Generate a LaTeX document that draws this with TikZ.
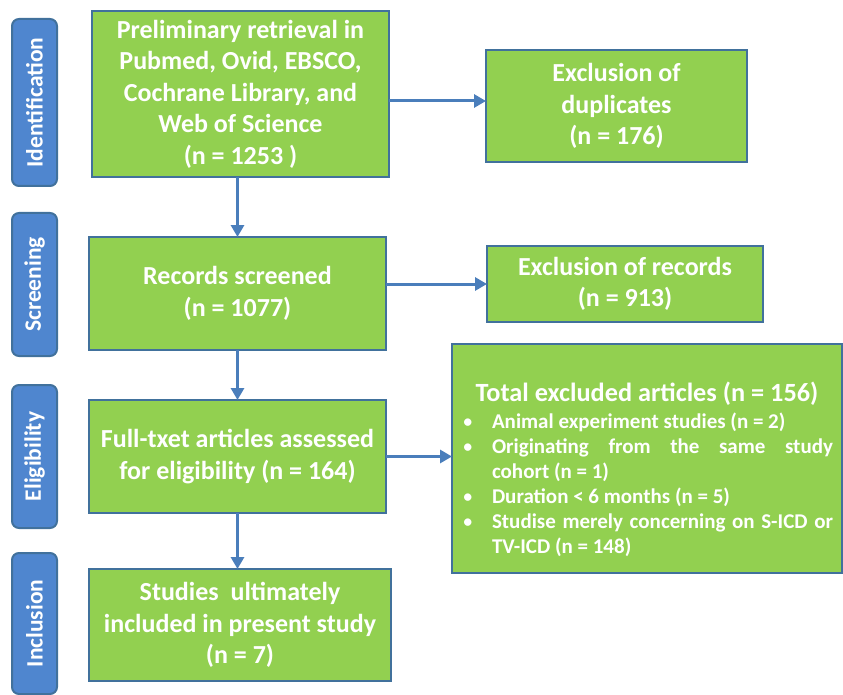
\documentclass[tikz,border=0pt]{standalone}
\usepackage{fontspec}
\setmainfont{Carlito}
\usepackage{enumitem}
\usetikzlibrary{arrows.meta}

\definecolor{boxgreen}{HTML}{92D050}
\definecolor{boxline}{HTML}{41719C}
\definecolor{tabblue}{HTML}{4F86CF}
\definecolor{arrowblue}{HTML}{4A7EBB}

\tikzset{
  stagebox/.style={draw=boxline, line width=1.8pt, fill=boxgreen, text=white,
    font=\bfseries\fontsize{26}{31.5}\selectfont, align=center,
    inner sep=0pt, outer sep=0pt},
  phasetab/.style={draw=boxline, line width=2pt, fill=tabblue, rounded corners=7pt,
    rotate=90, text=white, font=\bfseries\fontsize{23.5}{26}\selectfont,
    minimum height=45pt, inner sep=0pt},
  flow/.style={arrowblue, line width=3pt, -{Triangle[length=12pt,width=13pt]}},
}

\begin{document}
\begin{tikzpicture}[x=1pt, y=-1pt]
    % Page in pixel units, y down
    \useasboundingbox (0,0) rectangle (843,695);

    % Phase tabs on the left
    \node[phasetab, minimum width=167pt] (tabid) at (34.5,102.5) {Identification};
    \node[phasetab, minimum width=143pt] (tabscr) at (34.5,284.5) {Screening};
    \node[phasetab, minimum width=143pt] (tabelig) at (34.5,456.5) {Eligibility};
    \node[phasetab, minimum width=141pt] (tabinc) at (34.5,623.5) {Inclusion};

    % Main column
    \node[stagebox, minimum width=297pt, minimum height=166pt] (prelim) at (240.5,94)
        {Preliminary retrieval in\\ Pubmed, Ovid, EBSCO,\\ Cochrane Library, and\\ Web of Science\\ (n = 1253 )};
    \node[stagebox, minimum width=297pt, minimum height=113pt] (screen) at (237.5,293.5)
        {Records screened\\ (n = 1077)};
    \node[stagebox, minimum width=297pt, minimum height=113pt] (fulltext) at (237.5,456.5)
        {Full-txet articles assessed\\ for eligibility (n = 164)};
    \node[stagebox, minimum width=302pt, minimum height=112pt] (included) at (240,625)
        {Studies~ ultimately\\ included in present study\\ (n = 7)};

    % Exclusions on the right
    \node[stagebox, minimum width=261pt, minimum height=112pt] (dupl) at (616.5,106)
        {Exclusion of\\ duplicates\\ (n = 176)};
    \node[stagebox, minimum width=276pt, minimum height=76pt] (exrec) at (625,284)
        {Exclusion of records\\ (n = 913)};
    % strut in the title line pushes the block down a little
    \node[stagebox, minimum height=229pt, text width=372pt, inner xsep=9pt, align=justify] (exart) at (647,458.5)
        {\hyphenpenalty=10000
         {\centering\fontsize{26.3}{30}\selectfont\rule{0pt}{42pt}Total excluded articles (n = 156)\par}
         \vspace{2pt}
         \fontsize{21}{25}\selectfont
         \begin{itemize}[leftmargin=31pt, labelsep=19pt, itemsep=0pt, topsep=0pt, parsep=0pt, partopsep=0pt]
           \item Animal experiment studies (n = 2)
           \item Originating from the same study\linebreak cohort (n = 1)
           \item Duration < 6 months (n = 5)
           \item Studise merely concerning on S-ICD or TV-ICD (n = 148)
         \end{itemize}};

    % Connectors
    \draw[flow] (prelim.south -| screen) -- (screen.north);
    \draw[flow] (screen) -- (fulltext);
    \draw[flow] (fulltext.south) -- (fulltext.south |- included.north);
    \draw[flow] ([yshift=5pt]dupl.west -| prelim.east) -- ([yshift=5pt]dupl.west);
    \draw[flow] (screen.east |- exrec.west) -- (exrec.west);
    \draw[flow] (fulltext.east) -- (fulltext.east -| exart.west);
\end{tikzpicture}
\end{document}
